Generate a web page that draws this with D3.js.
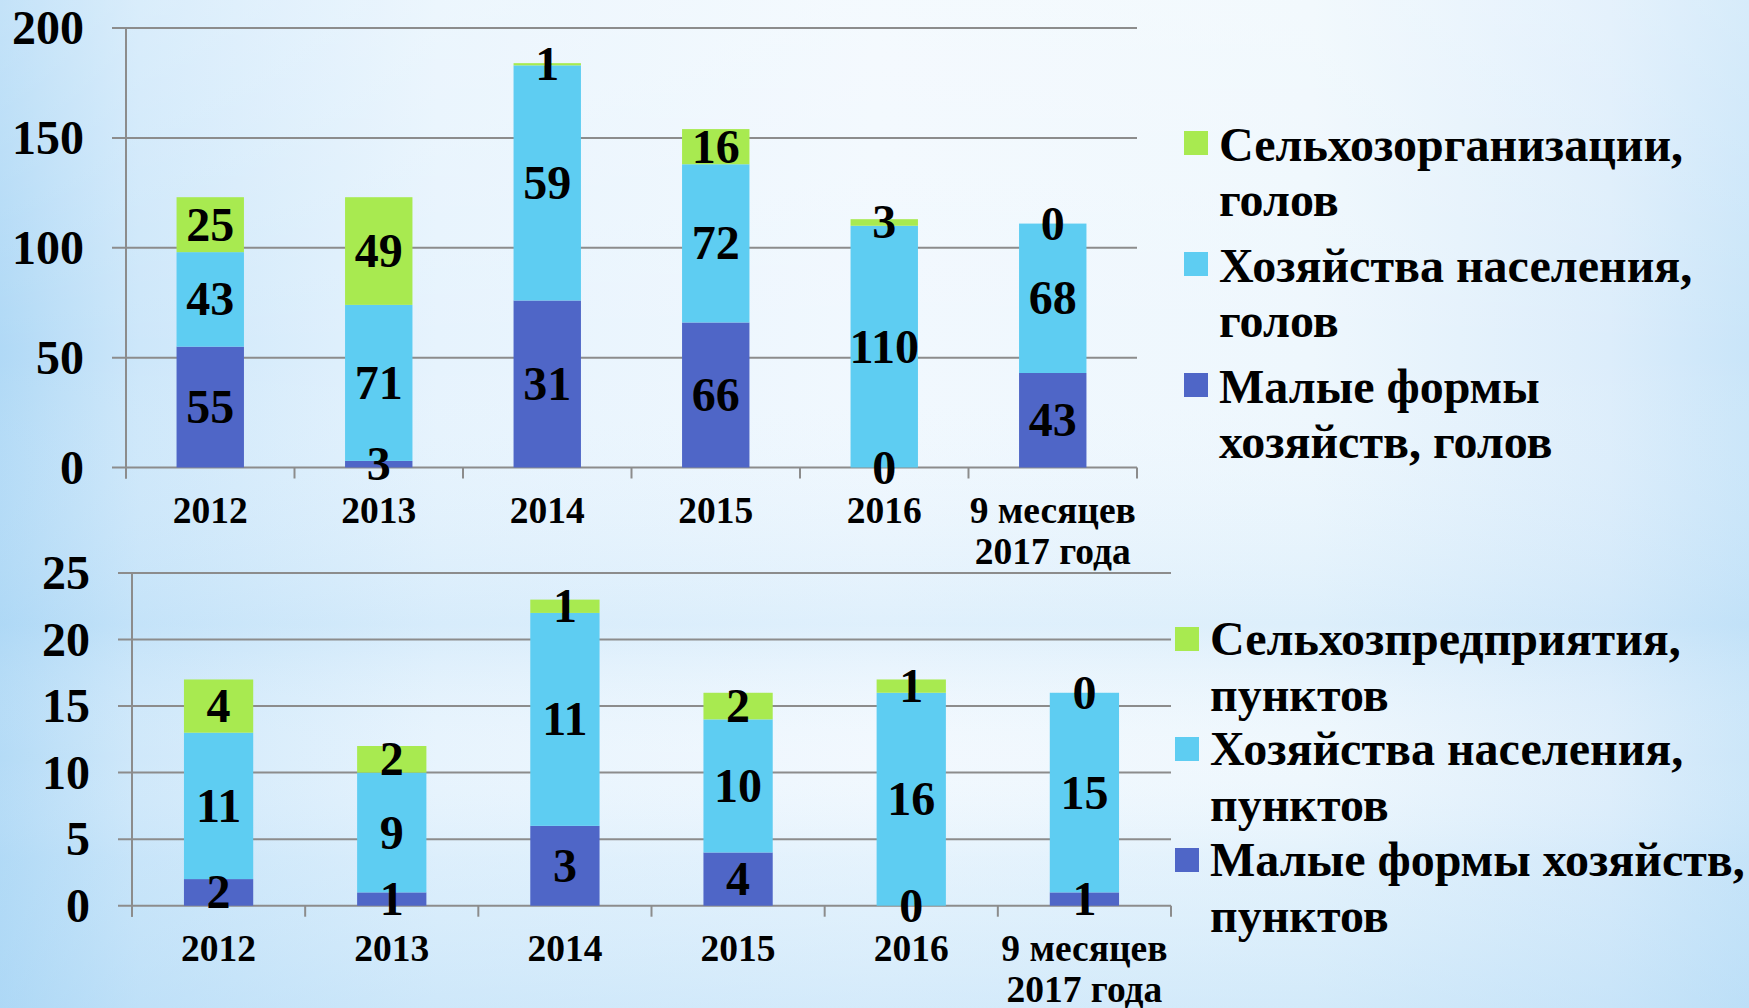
<!DOCTYPE html>
<html>
<head>
<meta charset="utf-8">
<script src="https://cdn.jsdelivr.net/npm/d3@7"></script>
<style>
  body { margin: 0; }
  svg { display: block; }
  text { font-family: "Liberation Serif", "Times New Roman", serif; font-weight: bold; fill: #000; }
</style>
</head>
<body>
<div id="d3_div"></div>
<script>
// categories shared by both charts, multi-line labels split into lines
var categories = ["2012", "2013", "2014", "2015", "2016", "9 месяцев|2017 года"];

// top chart: heads (голов). Bar heights;
// the printed labels differ for 2014, so they are kept separately.
var headsSmall  = [55, 3, 76, 66, 0, 43];
var headsHouse  = [43, 71, 107, 72, 110, 68];
var headsOrg    = [25, 49, 1, 16, 3, 0];
var headsSmallLabels = [55, 3, 31, 66, 0, 43];
var headsHouseLabels = [43, 71, 59, 72, 110, 68];
var headsOrgLabels   = [25, 49, 1, 16, 3, 0];
var headsTicks = [0, 50, 100, 150, 200];
var headsLegend = [
  ["Сельхозорганизации,", "голов"],
  ["Хозяйства населения,", "голов"],
  ["Малые формы", "хозяйств, голов"]
];

// bottom chart: points (пунктов)
var pointsSmall = [2, 1, 6, 4, 0, 1];
var pointsHouse = [11, 9, 16, 10, 16, 15];
var pointsOrg   = [4, 2, 1, 2, 1, 0];
var pointsSmallLabels = [2, 1, 3, 4, 0, 1];
var pointsHouseLabels = [11, 9, 11, 10, 16, 15];
var pointsOrgLabels   = [4, 2, 1, 2, 1, 0];
var pointsTicks = [0, 5, 10, 15, 20, 25];
var pointsLegend = [
  ["Сельхозпредприятия,", "пунктов"],
  ["Хозяйства населения,", "пунктов"],
  ["Малые формы хозяйств,", "пунктов"]
];

var colors = ["#4f66c7", "#5ecdf2", "#a8ea50"]; // small, house, org

var W = 1749, H = 1008;
var svg = d3.select("#d3_div").append("svg")
  .attr("width", W).attr("height", H);

// background
var defs = svg.append("defs");
var gh = defs.append("linearGradient").attr("id", "bgH");
[[0, "#b0d9f6"], [0.08, "#cde7fa"], [0.25, "#e6f3fd"], [0.5, "#f1f8fe"], [0.75, "#eef7fd"], [0.92, "#dcedfb"], [1, "#c9e5f9"]]
  .forEach(function(s) { gh.append("stop").attr("offset", s[0]).attr("stop-color", s[1]); });
var gv = defs.append("linearGradient").attr("id", "bgV").attr("x1", 0).attr("x2", 0).attr("y1", 0).attr("y2", 1);
[[0, "#ffffff", 0.25], [0.35, "#ffffff", 0], [0.62, "#a9d6f5", 0.25], [0.75, "#ffffff", 0.05], [0.85, "#b6ddf7", 0.2], [1, "#a9d6f5", 0.4]]
  .forEach(function(s) { gv.append("stop").attr("offset", s[0]).attr("stop-color", s[1]).attr("stop-opacity", s[2]); });
svg.append("rect").attr("width", W).attr("height", H).attr("fill", "url(#bgH)");
svg.append("rect").attr("width", W).attr("height", H).attr("fill", "url(#bgV)");

function drawChart(o) {
  var g = svg.append("g");
  var x = d3.scaleBand().domain(categories).range([o.x0, o.x1])
    .paddingInner(0.6).paddingOuter(0.3);
  var y = d3.scaleLinear().domain([0, o.ticks[o.ticks.length - 1]]).range([o.y0, o.y1]);

  // gridlines
  g.selectAll(".grid").data(o.ticks).enter().append("line")
    .attr("x1", o.x0 - 14).attr("x2", o.x1)
    .attr("y1", function(d) { return y(d); }).attr("y2", function(d) { return y(d); })
    .attr("stroke", "#8c8c8c").attr("stroke-width", 2);

  // y axis line
  g.append("line").attr("x1", o.x0).attr("x2", o.x0)
    .attr("y1", y(o.ticks[o.ticks.length - 1])).attr("y2", o.y0 + 11)
    .attr("stroke", "#8c8c8c").attr("stroke-width", 2);

  // category boundary ticks
  g.selectAll(".xt").data(d3.range(categories.length + 1)).enter().append("line")
    .attr("x1", function(i) { return o.x0 + i * (o.x1 - o.x0) / categories.length; })
    .attr("x2", function(i) { return o.x0 + i * (o.x1 - o.x0) / categories.length; })
    .attr("y1", o.y0).attr("y2", o.y0 + 11)
    .attr("stroke", "#8c8c8c").attr("stroke-width", 2);

  // y tick labels
  g.selectAll(".yl").data(o.ticks).enter().append("text")
    .attr("x", o.labelX).attr("y", function(d) { return y(d) + 16; })
    .attr("text-anchor", "end").attr("font-size", 48)
    .text(function(d) { return d; });

  // stacked bars
  var rows = categories.map(function(c, i) {
    return { cat: c, s: o.series[0][i], h: o.series[1][i], g: o.series[2][i] };
  });
  var stack = d3.stack().keys(["s", "h", "g"])(rows);
  stack.forEach(function(layer, k) {
    g.selectAll(".bar" + k).data(layer).enter().append("rect")
      .attr("x", function(d) { return x(d.data.cat); })
      .attr("width", x.bandwidth())
      .attr("y", function(d) { return y(d[1]); })
      .attr("height", function(d) { return y(d[0]) - y(d[1]); })
      .attr("fill", colors[k]);
  });
  stack.forEach(function(layer, k) {
    g.selectAll(".lab" + k).data(layer).enter().append("text")
      .attr("x", function(d) { return x(d.data.cat) + x.bandwidth() / 2; })
      .attr("y", function(d) { return (y(d[0]) + y(d[1])) / 2 + 16; })
      .attr("text-anchor", "middle").attr("font-size", 48)
      .text(function(d, i) { return o.labels[k][i]; });
  });

  // x category labels
  var xl = g.selectAll(".xl").data(categories).enter().append("text")
    .attr("text-anchor", "middle").attr("font-size", 37.5)
    .attr("y", o.y0 + 55);
  xl.selectAll("tspan").data(function(d) { return d.split("|").map(function(t) { return { t: t, c: d }; }); })
    .enter().append("tspan")
    .attr("x", function(d) { return x(d.c) + x.bandwidth() / 2; })
    .attr("dy", function(d, i) { return i ? 41 : 0; })
    .text(function(d) { return d.t; });

  // legend: org, house, small from top
  var order = [2, 1, 0];
  order.forEach(function(k, j) {
    var base = o.legY[j];
    g.append("rect").attr("x", o.legX).attr("y", base - o.sqOff)
      .attr("width", 24).attr("height", 24).attr("fill", colors[k]);
    o.legend[j].forEach(function(line, li) {
      g.append("text").attr("x", o.legX + 35).attr("y", base + li * o.legLine)
        .attr("font-size", 48).text(line);
    });
  });
}

drawChart({
  x0: 126, x1: 1137, y0: 467.5, y1: 28,
  ticks: headsTicks, labelX: 84,
  series: [headsSmall, headsHouse, headsOrg],
  labels: [headsSmallLabels, headsHouseLabels, headsOrgLabels],
  legend: headsLegend, legX: 1184, legY: [161, 282, 403], legLine: 55, sqOff: 30
});

drawChart({
  x0: 132, x1: 1171, y0: 905.7, y1: 573,
  ticks: pointsTicks, labelX: 90,
  series: [pointsSmall, pointsHouse, pointsOrg],
  labels: [pointsSmallLabels, pointsHouseLabels, pointsOrgLabels],
  legend: pointsLegend, legX: 1175, legY: [655, 765, 876], legLine: 55.5, sqOff: 28
});
</script>
</body>
</html>
